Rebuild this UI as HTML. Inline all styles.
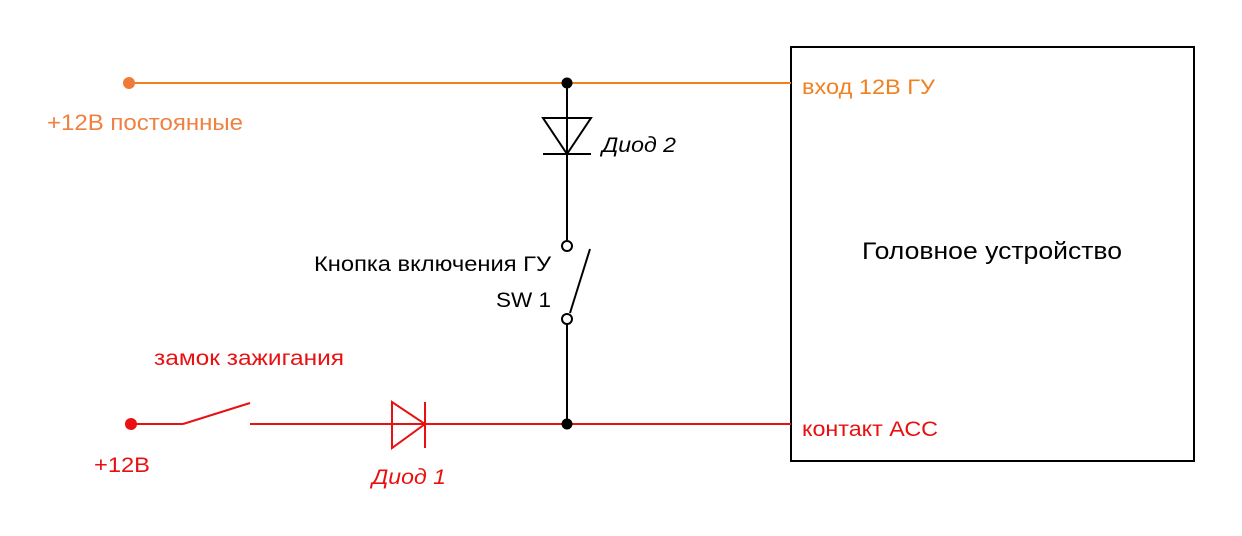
<!DOCTYPE html>
<html><head><meta charset="utf-8"><style>
html,body{margin:0;padding:0;background:#fff;}
svg{display:block;}
text{font-family:"Liberation Sans",Arial,sans-serif;}
</style></head><body>
<svg width="1242" height="536" viewBox="0 0 1242 536" xmlns="http://www.w3.org/2000/svg">
<rect x="0" y="0" width="1242" height="536" fill="#fff"/>
<rect x="791" y="47" width="403" height="414" fill="none" stroke="#000" stroke-width="2"/>
<text x="862" y="259" font-size="24" textLength="260" lengthAdjust="spacingAndGlyphs" fill="#000">Головное устройство</text>
<line x1="128" y1="83" x2="791" y2="83" stroke="#f08020" stroke-width="2"/>
<circle cx="129" cy="83" r="6" fill="#f07a38"/>
<text x="47" y="130" font-size="22" textLength="196" lengthAdjust="spacingAndGlyphs" fill="#f08040">+12В постоянные</text>
<text x="802" y="94" font-size="21" textLength="133" lengthAdjust="spacingAndGlyphs" fill="#f08020">вход 12В ГУ</text>
<line x1="567" y1="83" x2="567" y2="240" stroke="#000" stroke-width="2"/>
<circle cx="567" cy="83" r="5.5" fill="#000"/>
<polygon points="543,118 591,118 567,154" fill="none" stroke="#000" stroke-width="2"/>
<line x1="543" y1="154" x2="591" y2="154" stroke="#000" stroke-width="2"/>
<text x="602" y="152" font-size="21" font-style="italic" textLength="74" lengthAdjust="spacingAndGlyphs" fill="#000">Диод 2</text>
<circle cx="567" cy="246" r="5" fill="#fff" stroke="#000" stroke-width="2"/>
<line x1="590" y1="249" x2="570" y2="313" stroke="#000" stroke-width="2"/>
<circle cx="567" cy="319" r="5" fill="#fff" stroke="#000" stroke-width="2"/>
<line x1="567" y1="324" x2="567" y2="424" stroke="#000" stroke-width="2"/>
<text x="314" y="271" font-size="21" textLength="237" lengthAdjust="spacingAndGlyphs" fill="#000">Кнопка включения ГУ</text>
<text x="496" y="307" font-size="21" textLength="55" lengthAdjust="spacingAndGlyphs" fill="#000">SW 1</text>
<circle cx="131" cy="424" r="6" fill="#e81010"/>
<line x1="131" y1="424" x2="183" y2="424" stroke="#e81010" stroke-width="2"/>
<line x1="183" y1="424" x2="250" y2="403" stroke="#e81010" stroke-width="2"/>
<line x1="250" y1="424" x2="791" y2="424" stroke="#e81010" stroke-width="2"/>
<polygon points="392,402 392,448 425,424" fill="none" stroke="#e81010" stroke-width="2"/>
<line x1="425" y1="402" x2="425" y2="448" stroke="#e81010" stroke-width="2"/>
<circle cx="567" cy="424" r="5.5" fill="#000"/>
<text x="154" y="365" font-size="21" textLength="190" lengthAdjust="spacingAndGlyphs" fill="#e81010">замок зажигания</text>
<text x="94" y="472" font-size="21" textLength="56" lengthAdjust="spacingAndGlyphs" fill="#e81010">+12В</text>
<text x="372" y="484" font-size="21" font-style="italic" textLength="74" lengthAdjust="spacingAndGlyphs" fill="#e81010">Диод 1</text>
<text x="802" y="436" font-size="21" textLength="136" lengthAdjust="spacingAndGlyphs" fill="#e81010">контакт АСС</text>
</svg>
</body></html>
